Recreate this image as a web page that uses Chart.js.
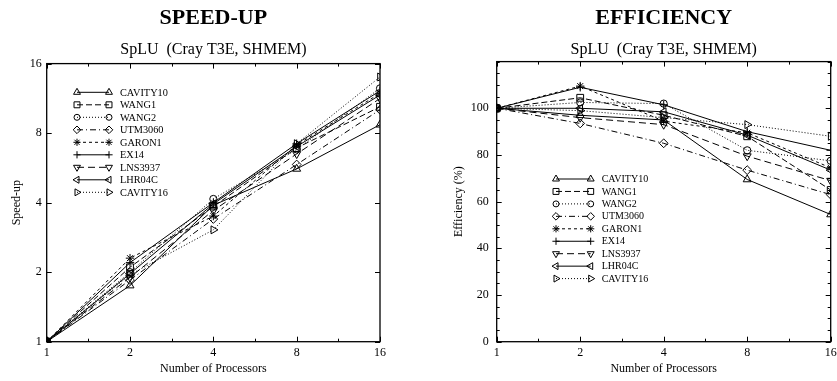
<!DOCTYPE html>
<html>
<head>
<meta charset="utf-8">
<script src="https://cdn.jsdelivr.net/npm/chart.js"></script>
<style>
  html, body { margin: 0; padding: 0; background: #fff; }
  #wrap { position: relative; width: 837px; height: 381px; }
  canvas { position: absolute; top: 0; }
</style>
</head>
<body>
<div id="wrap">
  <canvas id="speedup" width="418" height="381" style="left:0"></canvas>
  <canvas id="efficiency" width="419" height="381" style="left:418px"></canvas>
</div>
<script>
// number of processors (log2 x axis)
var processors = [1, 2, 4, 8, 16];
var matrixNames = ['CAVITY10', 'WANG1', 'WANG2', 'UTM3060', 'GARON1', 'EX14', 'LNS3937', 'LHR04C', 'CAVITY16'];

// speed-up, left panel
var speedupCavity10 = [1, 1.75, 3.9, 5.6, 8.7];
var speedupWang1    = [1, 2.1, 3.85, 6.9, 10.4];
var speedupWang2    = [1, 2.0, 4.15, 6.8, 12.5];
var speedupUtm3060  = [1, 1.85, 3.4, 5.85, 10.1];
var speedupGaron1   = [1, 2.3, 3.5, 7.1, 11.9];
var speedupEx14     = [1, 2.2, 4.0, 7.2, 12.2];
var speedupLns3937  = [1, 1.9, 3.7, 6.5, 11.3];
var speedupLhr04c   = [1, 1.97, 3.95, 7.0, 11.7];
var speedupCavity16 = [1, 1.95, 3.05, 7.2, 14];

// efficiency (%), right panel
var effCavity10 = [100, 97, 95, 69.5, 54.5];
var effWang1    = [100, 104.5, 97, 88, 65];
var effWang2    = [100, 102.5, 102, 82, 77.5];
var effUtm3060  = [100, 93.5, 85, 73.5, 63];
var effGaron1   = [100, 109.5, 94.5, 89.5, 74.5];
var effEx14     = [100, 109, 101.5, 90, 82];
var effLns3937  = [100, 96, 93, 79.5, 69];
var effLhr04c   = [100, 100, 98.5, 88.5, 73.5];
var effCavity16 = [100, 99, 96, 93, 88];

// tick labels
var xTicks = [1, 2, 4, 8, 16];
var speedupTicks = [1, 2, 4, 8, 16];
var efficiencyTicks = [0, 20, 40, 60, 80, 100];

var speedupSeries = [speedupCavity10, speedupWang1, speedupWang2, speedupUtm3060, speedupGaron1,
                     speedupEx14, speedupLns3937, speedupLhr04c, speedupCavity16];
var effSeries = [effCavity10, effWang1, effWang2, effUtm3060, effGaron1,
                 effEx14, effLns3937, effLhr04c, effCavity16];

// gnuplot-ish line and point types
var dashes = [[], [6, 3], [1, 2], [6, 3, 1, 3], [3, 3], [], [7, 4], [], [1, 2]];
var markers = ['triangle', 'rect', 'circle', 'rectRot', 'star', 'cross', 'triangle', 'triangle', 'triangle'];
var turns = [0, 0, 0, 0, 0, 0, 180, 270, 90];
var sizes = [4.6, 4.8, 3.6, 4.4, 4.2, 4.2, 4.6, 4.6, 4.6];

var SERIF = '"Liberation Serif", "Times New Roman", serif';

function makeDatasets(series) {
    return series.map(function (vals, i) {
        return {
            label: matrixNames[i],
            data: processors.map(function (p, k) { return {x: p, y: vals[k]}; }),
            borderColor: '#000',
            borderWidth: 1,
            borderDash: dashes[i],
            pointStyle: markers[i],
            pointRotation: turns[i],
            pointRadius: sizes[i],
            pointBorderWidth: 1,
            pointBorderColor: '#000',
            pointBackgroundColor: 'rgba(0,0,0,0)',
            tension: 0,
            fill: false
        };
    });
}

// key with a marker at both ends of the line sample
var keyPlugin = {
    id: 'key',
    afterDatasetsDraw: function (chart, args, opts) {
        var ctx = chart.ctx;
        ctx.save();
        ctx.font = opts.fontSize + 'px ' + SERIF;
        ctx.textBaseline = 'middle';
        chart.data.datasets.forEach(function (ds, i) {
            var y = opts.y + i * opts.step;
            ctx.strokeStyle = '#000';
            ctx.lineWidth = 1;
            ctx.setLineDash(ds.borderDash);
            ctx.beginPath();
            ctx.moveTo(opts.x1, y);
            ctx.lineTo(opts.x2, y);
            ctx.stroke();
            ctx.setLineDash([]);
            ctx.fillStyle = 'rgba(0,0,0,0)';
            var p = {pointStyle: ds.pointStyle, rotation: ds.pointRotation, radius: ds.pointRadius - 0.6, borderWidth: 1};
            Chart.helpers.drawPoint(ctx, p, opts.x1, y);
            Chart.helpers.drawPoint(ctx, p, opts.x2, y);
            ctx.fillStyle = '#000';
            ctx.fillText(ds.label, opts.tx, y + 0.5);
        });
        ctx.restore();
    }
};

// border box with inward tics on all four sides
var framePlugin = {
    id: 'frame',
    afterDraw: function (chart, args, opts) {
        var ctx = chart.ctx, a = chart.chartArea;
        var sx = chart.scales.x, sy = chart.scales.y;
        ctx.save();
        ctx.strokeStyle = '#000';
        ctx.setLineDash([]);
        ctx.lineWidth = 1;
        ctx.beginPath();
        sx.ticks.forEach(function (t) {
            var x = Math.round(sx.getPixelForValue(t.value)) + 0.5;
            var len = opts.xMajor.indexOf(t.value) >= 0 ? 5 : 3;
            ctx.moveTo(x, a.bottom); ctx.lineTo(x, a.bottom - len);
            ctx.moveTo(x, a.top); ctx.lineTo(x, a.top + len);
        });
        sy.ticks.forEach(function (t) {
            var y = Math.round(sy.getPixelForValue(t.value)) + 0.5;
            var len = opts.yMajor.indexOf(t.value) >= 0 ? 5 : 3;
            ctx.moveTo(a.left, y); ctx.lineTo(a.left + len, y);
            ctx.moveTo(a.right, y); ctx.lineTo(a.right - len, y);
        });
        ctx.stroke();
        ctx.lineWidth = 1.3;
        ctx.strokeRect(a.left, a.top, a.right - a.left, a.bottom - a.top);
        ctx.restore();
    }
};

function xAxis() {
    return {
        type: 'logarithmic',
        min: 1,
        max: 16,
        afterBuildTicks: function (scale) {
            var t = [];
            xTicks.forEach(function (v, i) {
                t.push({value: v});
                if (i < xTicks.length - 1) t.push({value: v * Math.SQRT2});
            });
            scale.ticks = t;
        },
        afterFit: function (scale) {
            scale.height = 39.3;
            // let the layout padding alone decide where the plot ends
            scale.paddingLeft = 0;
            scale.paddingRight = 0;
        },
        grid: {display: false, drawTicks: false},
        border: {display: false},
        ticks: {
            autoSkip: false, maxRotation: 0, padding: 4, color: '#000',
            font: {family: SERIF, size: 12},
            callback: function (v) { return xTicks.indexOf(v) >= 0 ? String(v) : ''; }
        },
        title: {
            display: true, text: 'Number of Processors', color: '#000',
            font: {family: SERIF, size: 12}, padding: {top: 0, bottom: 5}
        }
    };
}

function titles(main) {
    return {
        title: {
            display: true, text: main, color: '#000', fullSize: false,
            font: {family: SERIF, size: 22, weight: 'bold'}, padding: {top: 5, bottom: 9}
        },
        subtitle: {
            display: true, text: 'SpLU  (Cray T3E, SHMEM)', color: '#000', fullSize: false,
            font: {family: SERIF, size: 16}, padding: {top: 0, bottom: 4}
        }
    };
}

var p1 = titles('SPEED-UP');
p1.legend = {display: false};
p1.tooltip = {enabled: false};
p1.key = {x1: 77, x2: 109, tx: 120, y: 92.3, step: 12.5, fontSize: 10.3};
p1.frame = {xMajor: xTicks, yMajor: speedupTicks};

new Chart(document.getElementById('speedup'), {
    type: 'line',
    data: {datasets: makeDatasets(speedupSeries)},
    options: {
        responsive: false,
        animation: false,
        devicePixelRatio: 1,
        layout: {padding: {left: 0, right: 38, top: 0, bottom: 0}},
        scales: {
            x: xAxis(),
            y: {
                type: 'logarithmic',
                min: 1,
                max: 16,
                afterBuildTicks: function (scale) {
                    scale.ticks = speedupTicks.map(function (v) { return {value: v}; });
                },
                afterFit: function (scale) { scale.width = 46.7; },
                grid: {display: false, drawTicks: false},
                border: {display: false},
                ticks: {
                    autoSkip: false, padding: 5, color: '#000',
                    font: {family: SERIF, size: 12},
                    callback: function (v) { return String(v); }
                },
                title: {
                    display: true, text: 'Speed-up', color: '#000',
                    font: {family: SERIF, size: 12}, padding: {top: 10, bottom: 0}
                }
            }
        },
        plugins: p1
    },
    plugins: [keyPlugin, framePlugin]
});

var p2 = titles('EFFICIENCY');
p2.subtitle.padding = {top: 0, bottom: 2};
p2.legend = {display: false};
p2.tooltip = {enabled: false};
p2.key = {x1: 138, x2: 172.7, tx: 183.7, y: 179, step: 12.45, fontSize: 10};
p2.frame = {xMajor: xTicks, yMajor: efficiencyTicks};

new Chart(document.getElementById('efficiency'), {
    type: 'line',
    data: {datasets: makeDatasets(effSeries)},
    options: {
        responsive: false,
        animation: false,
        devicePixelRatio: 1,
        layout: {padding: {left: 0, right: 6.3, top: 0, bottom: 0}},
        scales: {
            x: xAxis(),
            y: {
                type: 'linear',
                min: 0,
                max: 120,
                afterBuildTicks: function (scale) {
                    var t = [];
                    for (var v = 0; v <= 120; v += 5) t.push({value: v});
                    scale.ticks = t;
                },
                afterFit: function (scale) { scale.width = 78.7; },
                grid: {display: false, drawTicks: false},
                border: {display: false},
                ticks: {
                    autoSkip: false, padding: 8, color: '#000',
                    font: {family: SERIF, size: 12},
                    callback: function (v) { return efficiencyTicks.indexOf(v) >= 0 ? String(v) : ''; }
                },
                title: {
                    display: true, text: 'Efficiency (%)', color: '#000',
                    font: {family: SERIF, size: 12}, padding: {top: 33.8, bottom: 0}
                }
            }
        },
        plugins: p2
    },
    plugins: [keyPlugin, framePlugin]
});
</script>
</body>
</html>
